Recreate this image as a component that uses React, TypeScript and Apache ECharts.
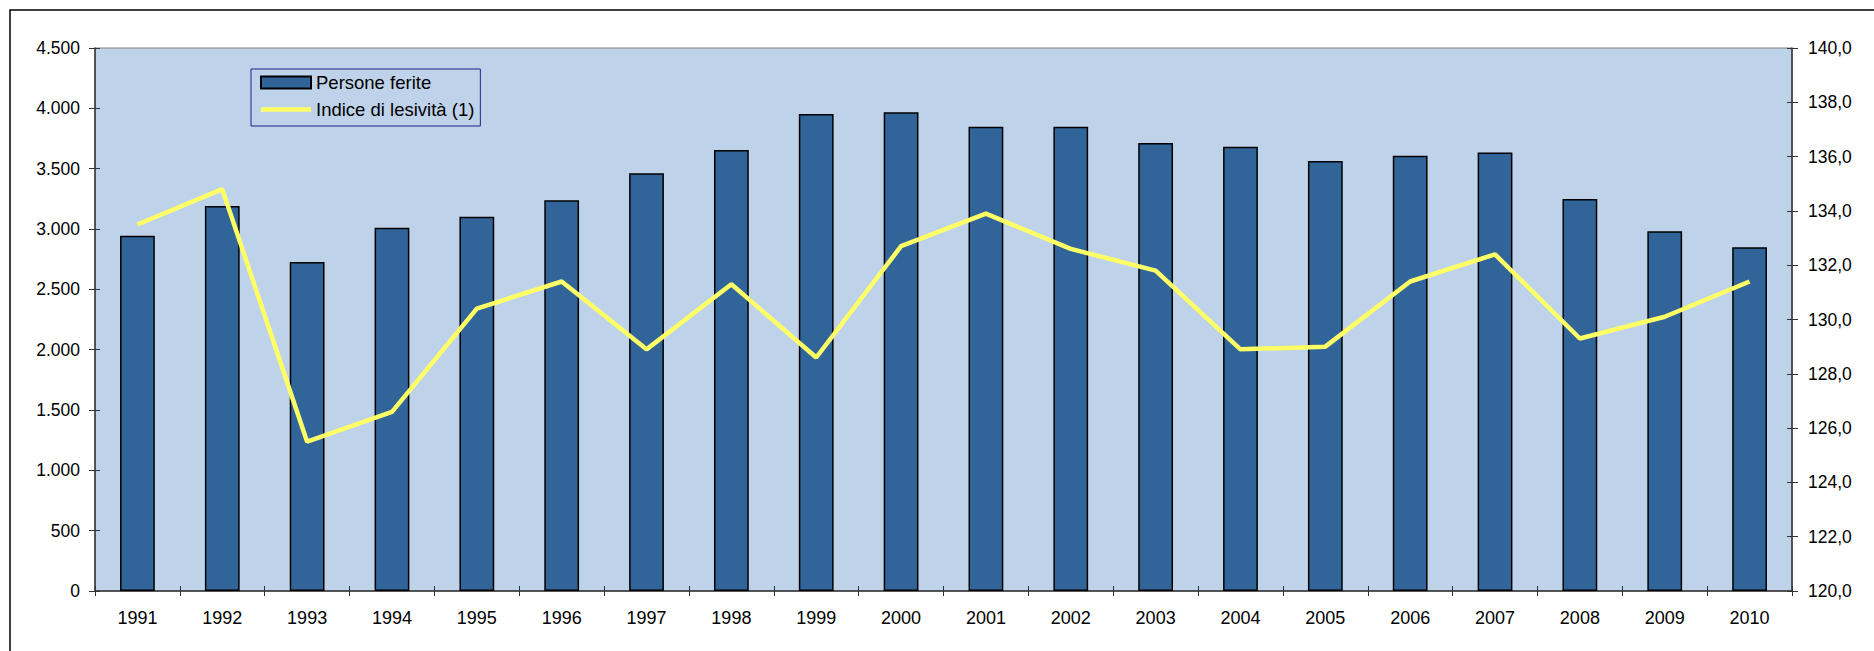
import { useEffect, useRef } from "react";
import * as echarts from "echarts";

// anni
const years = [
  "1991", "1992", "1993", "1994", "1995", "1996", "1997", "1998", "1999", "2000",
  "2001", "2002", "2003", "2004", "2005", "2006", "2007", "2008", "2009", "2010",
];

// persone ferite (asse sinistro)
const ferite = [
  2945, 3190, 2726, 3011, 3102, 3238, 3461, 3655, 3953, 3967,
  3848, 3848, 3713, 3682, 3563, 3607, 3635, 3249, 2981, 2848,
];

// indice di lesività (asse destro)
const lesivita = [
  133.5, 134.8, 125.5, 126.6, 130.4, 131.4, 128.9, 131.3, 128.6, 132.7,
  133.9, 132.6, 131.8, 128.9, 129.0, 131.4, 132.4, 129.3, 130.1, 131.4,
];

const FONT = "'Liberation Sans', Arial, sans-serif";
const AXIS = "#333";

const fmtLeft = (v: number) =>
  String(v).replace(/\B(?=(\d{3})+(?!\d))/g, ".");
const fmtRight = (v: number) => v.toFixed(1).replace(".", ",");

// asse "fantasma" con tacche interne, per avere le tacche incrociate come in Excel
const innerTicks = (base: any) => ({
  ...base,
  axisLine: { show: false },
  axisLabel: { show: false },
  axisTick: { show: true, inside: true, length: 5, interval: 0, lineStyle: { color: AXIS } },
  splitLine: { show: false },
});

export default function App() {
  const chartRef = useRef<HTMLDivElement | null>(null);

  useEffect(() => {
    if (!chartRef.current) return;
    const chart = echarts.init(chartRef.current, null, { renderer: "svg" });

    const leftBase = { type: "value", min: 0, max: 4500, interval: 500, position: "left" };
    const rightBase = { type: "value", min: 120, max: 140, interval: 2, position: "right" };
    const xBase = { type: "category", data: years, boundaryGap: true, position: "bottom" };

    chart.setOption({
      animation: false,
      textStyle: { fontFamily: FONT },
      graphic: [
        {
          type: "rect",
          shape: { x: 10, y: 10, width: 1900, height: 700 },
          style: { fill: "none", stroke: "#000", lineWidth: 1.5 },
          silent: true,
        },
      ],
      legend: {
        orient: "vertical",
        left: 251,
        top: 69,
        padding: [4, 6, 7, 9],
        itemGap: 8,
        itemWidth: 50,
        itemHeight: 12,
        borderColor: "#1f1f8f",
        borderWidth: 1,
        backgroundColor: "#BED3E9",
        textStyle: { fontSize: 18.5, color: "#000", fontFamily: FONT },
        data: [
          { name: "Persone ferite", icon: "rect" },
          { name: "Indice di lesività (1)", icon: "path://M0,0H50V4.5H0Z" },
        ],
      },
      grid: {
        left: 95,
        top: 48,
        right: 82,
        bottom: 60,
        show: true,
        backgroundColor: "#BED3E9",
        borderColor: "#808080",
        borderWidth: 1,
      },
      xAxis: [
        {
          ...xBase,
          axisLine: { lineStyle: { color: AXIS, width: 1.5 } },
          axisTick: { show: true, interval: 0, length: 5, lineStyle: { color: AXIS } },
          axisLabel: { interval: 0, fontSize: 18, color: "#000", margin: 18, fontFamily: FONT },
        },
        innerTicks(xBase),
      ],
      yAxis: [
        {
          ...leftBase,
          splitLine: { show: false },
          axisLine: { show: true, lineStyle: { color: AXIS, width: 1.5 } },
          axisTick: { show: true, length: 6, lineStyle: { color: AXIS } },
          axisLabel: { fontSize: 17.5, color: "#000", margin: 15, formatter: fmtLeft, fontFamily: FONT },
        },
        {
          ...rightBase,
          splitLine: { show: false },
          axisLine: { show: true, lineStyle: { color: AXIS, width: 1.5 } },
          axisTick: { show: true, length: 6, lineStyle: { color: AXIS } },
          axisLabel: { fontSize: 17.5, color: "#000", margin: 16, formatter: fmtRight, fontFamily: FONT },
        },
        innerTicks(leftBase),
        innerTicks(rightBase),
      ],
      series: [
        {
          name: "Persone ferite",
          type: "bar",
          xAxisIndex: 0,
          yAxisIndex: 0,
          data: ferite,
          barWidth: "41%",
          itemStyle: { color: "#31659A", borderColor: "#000", borderWidth: 1.5 },
        },
        {
          name: "Indice di lesività (1)",
          type: "line",
          xAxisIndex: 0,
          yAxisIndex: 1,
          data: lesivita,
          showSymbol: false,
          symbol: "none",
          lineStyle: { color: "#FFFF66", width: 4.5 },
          itemStyle: { color: "#FFFF66" },
        },
      ],
    });

    return () => {
      chart.dispose();
    };
  }, []);

  return (
    <div
      ref={chartRef}
      style={{ position: "absolute", left: 0, top: 0, width: 1874, height: 651, background: "#fff" }}
    />
  );
}
